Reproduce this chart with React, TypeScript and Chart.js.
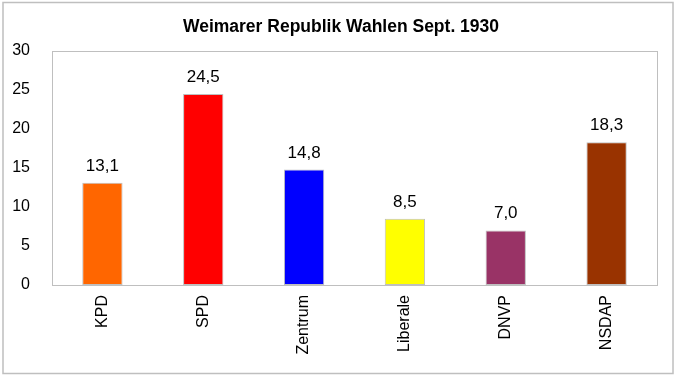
import React, { useEffect, useRef } from "react";
import { Chart, registerables } from "chart.js";

Chart.register(...registerables);

const categories = ["KPD", "SPD", "Zentrum", "Liberale", "DNVP", "NSDAP"];
const values = [13.1, 24.5, 14.8, 8.5, 7.0, 18.3];
const barColors = ["#FF6600", "#FF0000", "#0000FF", "#FFFF00", "#993366", "#993300"];
const yTicks = [0, 5, 10, 15, 20, 25, 30];
const titleText = "Weimarer Republik Wahlen Sept. 1930";

const FONT = "'Liberation Sans', Arial, sans-serif";

export default function App() {
  const ref = useRef<HTMLCanvasElement | null>(null);

  useEffect(() => {
    document.body.style.margin = "0";
    const canvas = ref.current;
    if (!canvas) return;

    const framePlugin = {
      id: "frame",
      beforeDraw(chart: any) {
        const ctx = chart.ctx;
        ctx.save();
        ctx.fillStyle = "#ffffff";
        ctx.fillRect(0, 0, chart.width, chart.height);
        ctx.strokeStyle = "#BFBFBF";
        ctx.lineWidth = 1.5;
        ctx.strokeRect(3, 2.5, chart.width - 6, chart.height - 5);
        ctx.restore();
      },
      afterDraw(chart: any) {
        const a = chart.chartArea;
        const ctx = chart.ctx;
        ctx.save();
        ctx.strokeStyle = "#BFBFBF";
        ctx.lineWidth = 1;
        ctx.strokeRect(a.left + 0.5, a.top + 0.5, a.right - a.left, a.bottom - a.top);
        ctx.font = `bold 17.5px ${FONT}`;
        ctx.fillStyle = "#000000";
        ctx.textAlign = "center";
        ctx.textBaseline = "middle";
        ctx.fillText(titleText, chart.width / 2 + 3, 27);
        ctx.restore();
      },
    };

    const labelPlugin = {
      id: "valueLabels",
      afterDatasetsDraw(chart: any) {
        const ctx = chart.ctx;
        const meta = chart.getDatasetMeta(0);
        ctx.save();
        ctx.font = `17px ${FONT}`;
        ctx.fillStyle = "#000000";
        ctx.textAlign = "center";
        ctx.textBaseline = "alphabetic";
        meta.data.forEach((bar: any, i: number) => {
          const txt = values[i].toFixed(1).replace(".", ",");
          ctx.fillText(txt, bar.x, bar.y - 12);
        });
        ctx.restore();
      },
    };

    const chart = new Chart(canvas, {
      type: "bar",
      data: {
        labels: categories,
        datasets: [
          {
            data: values,
            backgroundColor: barColors,
            borderColor: "#BFBFBF",
            borderWidth: 1,
            borderSkipped: false,
            barPercentage: 0.4,
            categoryPercentage: 1,
          },
        ],
      },
      options: {
        animation: false,
        responsive: false,
        maintainAspectRatio: false,
        layout: { padding: { left: 0, right: 19, top: 51, bottom: 0 } },
        plugins: {
          legend: { display: false },
          tooltip: { enabled: false },
          title: { display: false },
        },
        scales: {
          x: {
            grid: { display: false, drawTicks: false },
            border: { display: true, color: "#BFBFBF" },
            ticks: {
              autoSkip: false,
              minRotation: 90,
              maxRotation: 90,
              padding: 10,
              color: "#000000",
              font: { family: FONT, size: 16 },
            },
            afterFit(scale: any) {
              scale.height = 91;
            },
          },
          y: {
            min: 0,
            max: 30,
            grid: { display: false, drawTicks: false },
            border: { display: true, color: "#BFBFBF" },
            afterBuildTicks(scale: any) {
              scale.ticks = yTicks.map((v) => ({ value: v }));
            },
            ticks: {
              padding: 22,
              color: "#000000",
              font: { family: FONT, size: 16 },
            },
            afterFit(scale: any) {
              scale.width = 52;
            },
          },
        },
      },
      plugins: [framePlugin, labelPlugin],
    });

    return () => chart.destroy();
  }, []);

  return (
    <div style={{ position: "absolute", left: 0, top: 0, width: 676, height: 376 }}>
      <canvas ref={ref} width={676} height={376} style={{ width: 676, height: 376, display: "block" }} />
    </div>
  );
}
